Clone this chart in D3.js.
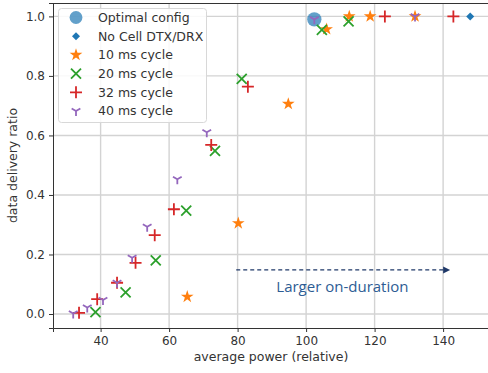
<!DOCTYPE html>
<html>
<head>
<meta charset="utf-8">
<script src="https://cdn.jsdelivr.net/npm/d3@7"></script>
<style>
  body { margin: 0; background: #fff; }
  svg text { font-family: "DejaVu Sans", sans-serif; }
</style>
</head>
<body>
<div id="chart"></div>
<script>
// data: [average power, data delivery ratio]
const optimalConfig = [[102.4, 0.99]];
const noCellDtx = [[147.9, 1.0]];
const cycle10 = [[65.3, 0.058], [80.2, 0.305], [94.8, 0.706], [106.0, 0.957], [112.6, 1.0], [118.7, 1.0], [131.8, 1.0]];
const cycle20 = [[38.5, 0.006], [47.3, 0.073], [56.1, 0.18], [65.0, 0.347], [73.4, 0.548], [81.2, 0.79], [104.6, 0.955], [112.4, 0.983]];
const cycle32 = [[33.7, 0.004], [39.0, 0.05], [44.8, 0.105], [50.2, 0.172], [55.8, 0.265], [61.4, 0.352], [72.3, 0.568], [83.0, 0.764], [123.0, 1.0], [143.0, 1.0]];
const cycle40 = [[32.0, 0.002], [36.1, 0.022], [40.7, 0.047], [44.8, 0.105], [49.2, 0.189], [53.6, 0.293], [62.4, 0.453], [71.0, 0.611], [102.4, 0.99], [131.8, 1.0]];
const xTicks = [40, 60, 80, 100, 120, 140];
const yTicks = [0.0, 0.2, 0.4, 0.6, 0.8, 1.0];

const series = [
  {name: 'Optimal config', data: optimalConfig, shape: 'circle', color: '#1f77b4'},
  {name: 'No Cell DTX/DRX', data: noCellDtx, shape: 'diamond', color: '#1f77b4'},
  {name: '10 ms cycle', data: cycle10, shape: 'star', color: '#ff7f0e'},
  {name: '20 ms cycle', data: cycle20, shape: 'x', color: '#2ca02c'},
  {name: '32 ms cycle', data: cycle32, shape: 'plus', color: '#d62728'},
  {name: '40 ms cycle', data: cycle40, shape: 'tri', color: '#9467bd'}
];

const width = 488, height = 373;
const margin = {top: 3, right: -1, bottom: 45, left: 53};
const cw = width - margin.left - margin.right, ch = height - margin.top - margin.bottom;

const x = d3.scaleLinear().domain([26.1, 153.4]).range([0, cw]);
const y = d3.scaleLinear().domain([-0.047, 1.045]).range([ch, 0]);

const svg = d3.select('#chart').append('svg')
  .attr('width', width).attr('height', height);
const g = svg.append('g').attr('transform', `translate(${margin.left},${margin.top})`);

// grid
g.append('g').selectAll('line').data(xTicks).join('line')
  .attr('x1', d => x(d)).attr('x2', d => x(d)).attr('y1', 0).attr('y2', ch)
  .attr('stroke', '#d3d3d3').attr('stroke-width', 1.4);
g.append('g').selectAll('line').data(yTicks).join('line')
  .attr('y1', d => y(d)).attr('y2', d => y(d)).attr('x1', 0).attr('x2', cw)
  .attr('stroke', '#d3d3d3').attr('stroke-width', 1.4);

// axes
const xAxis = g.append('g').attr('transform', `translate(0,${ch})`)
  .call(d3.axisBottom(x).tickValues(xTicks).tickFormat(d3.format('d')).tickSize(4).tickPadding(4));
const yAxis = g.append('g')
  .call(d3.axisLeft(y).tickValues(yTicks).tickFormat(d3.format('.1f')).tickSize(4).tickPadding(4));
[xAxis, yAxis].forEach(a => {
  a.select('.domain').attr('stroke', '#333');
  a.selectAll('.tick line').attr('stroke', '#333');
  a.selectAll('.tick text').attr('fill', '#333').style('font-size', '12px');
});
// top spine
g.append('line').attr('x1', 0).attr('x2', cw).attr('y1', 0.5).attr('y2', 0.5).attr('stroke', '#333');

// marker shapes
const markerPath = (shape, s) => {
  if (shape === 'x') return `M${-s},${-s}L${s},${s}M${-s},${s}L${s},${-s}`;
  if (shape === 'plus') return `M${-s},0L${s},0M0,${-s}L0,${s}`;
  if (shape === 'tri') return `M0,0L0,${s}M0,0L${-s * 0.87},${-s * 0.5}M0,0L${s * 0.87},${-s * 0.5}`;
  if (shape === 'star') return d3.symbol(d3.symbolStar, s)();
  if (shape === 'diamond') return `M0,${-s}L${s},0L0,${s}L${-s},0Z`;
  return d3.symbol(d3.symbolCircle, s)();
};
const markerSize = {circle: 160, diamond: 4, star: 50, x: 5, plus: 6, tri: 5};
const legendSize = {circle: 130, diamond: 4, star: 50, x: 5, plus: 6, tri: 5};

const drawMarker = (sel, d, sizes) => {
  const p = sel.append('path').attr('d', markerPath(d.shape, sizes[d.shape]));
  if (d.shape === 'x' || d.shape === 'plus' || d.shape === 'tri') {
    p.attr('fill', 'none').attr('stroke', d.color).attr('stroke-width', 1.8);
  } else {
    p.attr('fill', d.color).attr('fill-opacity', d.shape === 'circle' ? 0.7 : 1);
  }
};

g.selectAll('g.series').data(series).join('g').attr('class', 'series')
  .each(function(d) {
    d3.select(this).selectAll('g.pt').data(d.data).join('g').attr('class', 'pt')
      .attr('transform', p => `translate(${x(p[0])},${y(p[1])})`)
      .each(function() { drawMarker(d3.select(this), d, markerSize); });
  });

// annotation arrow
const ay = y(0.148);
g.append('line')
  .attr('x1', x(79.6)).attr('x2', x(140.0)).attr('y1', ay).attr('y2', ay)
  .attr('stroke', '#1f3868').attr('stroke-width', 1.3).attr('stroke-dasharray', '4,3');
g.append('path')
  .attr('d', `M${x(140.0)},${ay - 3.5}L${x(140.0) + 7},${ay}L${x(140.0)},${ay + 3.5}Z`)
  .attr('fill', '#1f3868');
g.append('text').attr('x', x(110.6)).attr('y', y(0.09)).attr('text-anchor', 'middle')
  .attr('dy', '0.35em').attr('fill', '#2d5c94').style('font-size', '15px')
  .style('font-family', '"Open Sans", sans-serif')
  .text('Larger on-duration');

// legend
const leg = g.append('g').attr('transform', 'translate(5,5)');
leg.append('rect').attr('x', 0.5).attr('y', 0.5).attr('width', 148).attr('height', 114).attr('rx', 3)
  .attr('fill', '#fff').attr('fill-opacity', 0.85).attr('stroke', '#d8d8d8');
leg.selectAll('g.item').data(series).join('g').attr('class', 'item')
  .attr('transform', (d, i) => `translate(18,${9.5 + i * 18.7})`)
  .each(function(d) {
    const it = d3.select(this);
    drawMarker(it, d, legendSize);
    it.append('text').attr('x', 22).attr('dy', '0.35em').attr('fill', '#333')
      .style('font-size', '12.5px').text(d.name);
  });

// axis labels
svg.append('text').attr('x', margin.left + cw / 2).attr('y', 361).attr('text-anchor', 'middle')
  .attr('fill', '#333').style('font-size', '12.5px').text('average power (relative)');
svg.append('text').attr('transform', `translate(13,${margin.top + ch / 2}) rotate(-90)`)
  .attr('text-anchor', 'middle').attr('dy', '0.35em')
  .attr('fill', '#333').style('font-size', '12.5px').text('data delivery ratio');
</script>
</body>
</html>
